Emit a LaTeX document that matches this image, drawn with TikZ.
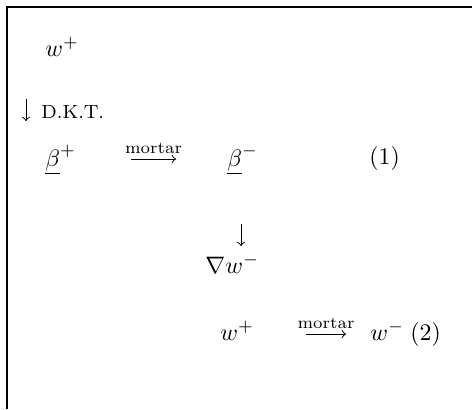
\documentclass[tikz,border=0pt]{standalone}
\usepackage{amsmath}

\begin{document}
\begin{tikzpicture}[x=0.42pt,y=-0.42pt,
    term/.style={anchor=base west, inner sep=0pt},
    lbl/.style={font=\scriptsize, inner sep=2pt}]

  \useasboundingbox (0,0) rectangle (472,409);

  % Frame (top and left rule)
  \draw[line width=0.6pt] (472,7) -- (7,7) -- (7,409);

  % First chain: w^+ -> beta^+ -> beta^-
  \node[term] (wtop) at (45,56) {$w^+$};
  \coordinate (dkttop) at (26,99);
  \coordinate (dktbot) at (26,121);
  \draw[->] (dkttop) -- (dktbot);
  \node[term, font=\footnotesize] (dkt) at (41,118) {D.K.T.};

  \node[term] (bplus) at (45,166) {$\underline{\beta}^+$};
  \coordinate (mleft) at (131,159);
  \coordinate (mright) at (176,159);
  \draw[->] (mleft) -- node[lbl, above] (mlab) {mortar} (mright);
  \node[term] (bminus) at (227,166) {$\underline{\beta}^-$};
  \node[term] (eqone) at (369,164) {(1)};

  % Second chain: beta^- -> grad w^- -> w^+ -> w^-
  \coordinate (gtop) at (241,224);
  \coordinate (gbot) at (241,246);
  \draw[->] (gtop) -- (gbot);
  \node[term] (gradw) at (205,273) {$\nabla w^-$};

  \node[term] (wplus) at (220,340) {$w^+$};
  \coordinate (nleft) at (306,334);
  \coordinate (nright) at (346,334);
  \draw[->] (nleft) -- node[lbl, above] (nlab) {mortar} (nright);
  \node[term] (wminus) at (370,340) {$w^-$};
  \node[term] (eqtwo) at (410,340) {(2)};

\end{tikzpicture}
\end{document}
